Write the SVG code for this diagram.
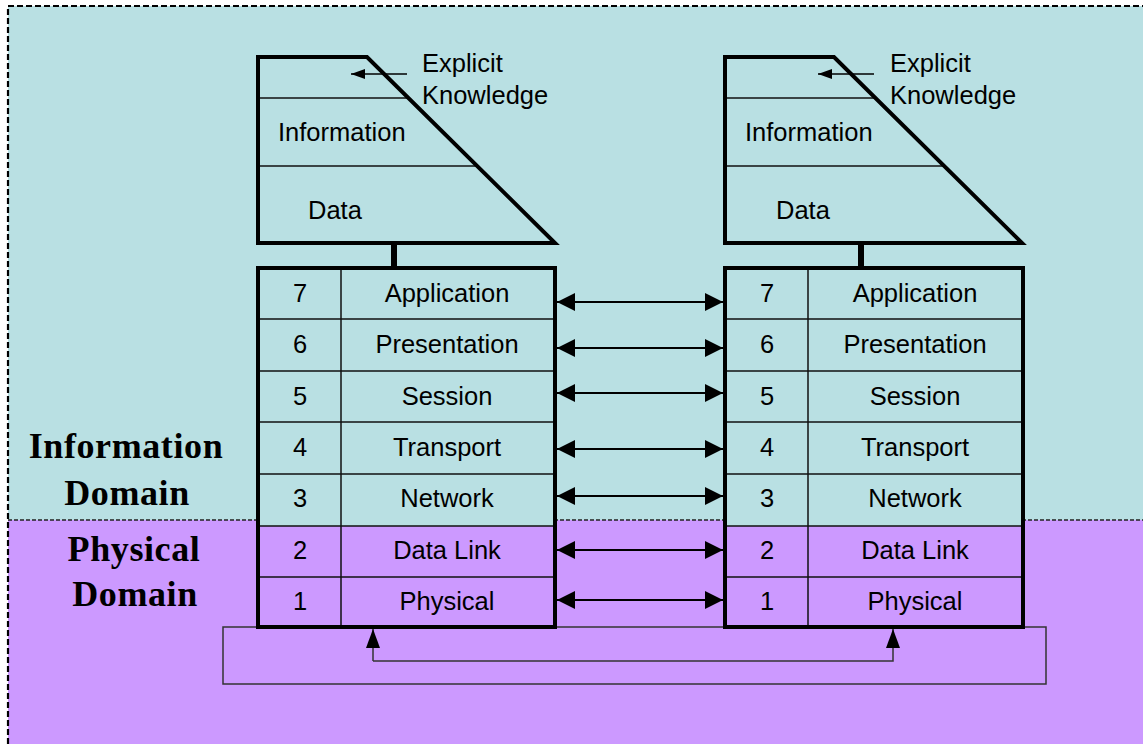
<svg xmlns="http://www.w3.org/2000/svg" width="1143" height="744" viewBox="0 0 1143 744">
<style>
.lbl{font-family:"Liberation Sans",Arial,sans-serif;font-size:25.5px;fill:#000;text-anchor:middle}
.ptxt{font-family:"Liberation Sans",Arial,sans-serif;font-size:25.5px;fill:#000}
.dom{font-family:"Liberation Serif","Times New Roman",serif;font-size:36px;font-weight:bold;fill:#000;text-anchor:middle;letter-spacing:0.6px}
.thick{fill:none;stroke:#000;stroke-width:4}
.thin{fill:none;stroke:#111;stroke-width:1.5}
.teal{fill:#B9E0E3}
.purple{fill:#CC99FF}
.conn{fill:none;stroke:#000;stroke-width:2}
</style>
<defs>
<marker id="ah" viewBox="0 0 18 18" refX="18" refY="9" markerWidth="18" markerHeight="18" markerUnits="userSpaceOnUse" orient="auto-start-reverse">
<path d="M0,0 L18,9 L0,18 Z" fill="#000"/>
</marker>
<marker id="ahs" viewBox="0 0 14 10" refX="14" refY="5" markerWidth="14" markerHeight="10" markerUnits="userSpaceOnUse" orient="auto">
<path d="M0,0 L14,5 L0,10 Z" fill="#000"/>
</marker>
<marker id="ahu" viewBox="0 0 19 14" refX="19" refY="7" markerWidth="19" markerHeight="14" markerUnits="userSpaceOnUse" orient="auto">
<path d="M0,0 L19,7 L0,14 Z" fill="#000"/>
</marker>
</defs>

<g id="background">
<rect x="0" y="0" width="1143" height="744" fill="#FFFFFF"/>
<rect x="8" y="6" width="1135" height="514" class="teal"/>
<rect x="8" y="520" width="1135" height="224" class="purple"/>
<path d="M8,744 L8,6 L1143,6" fill="none" stroke="#000" stroke-width="2.2" stroke-dasharray="6,3"/>
<line x1="8" y1="520" x2="1143" y2="520" stroke="#222" stroke-width="1.5" stroke-dasharray="4,2"/>
</g>

<g id="domain-labels">
<text class="dom" x="126" y="458">Information</text>
<text class="dom" x="127" y="505">Domain</text>
<text class="dom" x="134" y="561">Physical</text>
<text class="dom" x="135" y="606">Domain</text>
</g>

<g id="medium">
<rect x="223" y="627" width="823" height="57" fill="none" stroke="#333" stroke-width="1.5"/>
</g>

<g id="pyramid-left">
<path d="M258,57 L367,57 L555,243 L258,243 Z" class="teal"/>
<line x1="258" y1="98" x2="408" y2="98" class="thin"/>
<line x1="258" y1="166" x2="477" y2="166" class="thin"/>
<path d="M258,57 L367,57 L555,243 L258,243 Z" class="thick"/>
<text class="ptxt" x="278" y="141">Information</text>
<text class="ptxt" x="308" y="219">Data</text>
<text class="ptxt" x="422" y="72">Explicit</text>
<text class="ptxt" x="422" y="104">Knowledge</text>
<line x1="394" y1="243" x2="394" y2="268" stroke="#000" stroke-width="6"/>
</g>

<g id="pyramid-right">
<path d="M725,57 L834,57 L1022,243 L725,243 Z" class="teal"/>
<line x1="725" y1="98" x2="875" y2="98" class="thin"/>
<line x1="725" y1="166" x2="944" y2="166" class="thin"/>
<path d="M725,57 L834,57 L1022,243 L725,243 Z" class="thick"/>
<text class="ptxt" x="745" y="141">Information</text>
<text class="ptxt" x="776" y="219">Data</text>
<text class="ptxt" x="890" y="72">Explicit</text>
<text class="ptxt" x="890" y="104">Knowledge</text>
<line x1="861" y1="243" x2="861" y2="268" stroke="#000" stroke-width="6"/>
</g>

<g id="stack-left">
<rect x="258" y="268" width="297" height="258" class="teal"/>
<rect x="258" y="526" width="297" height="101" class="purple"/>
<g class="thin">
<line x1="258" y1="319" x2="555" y2="319"/>
<line x1="258" y1="371" x2="555" y2="371"/>
<line x1="258" y1="422" x2="555" y2="422"/>
<line x1="258" y1="474" x2="555" y2="474"/>
<line x1="258" y1="526" x2="555" y2="526"/>
<line x1="258" y1="577" x2="555" y2="577"/>
<line x1="341" y1="268" x2="341" y2="627"/>
</g>
<rect x="258" y="268" width="297" height="359" class="thick"/>
<text class="lbl" x="300" y="302">7</text><text class="lbl" x="447" y="302">Application</text>
<text class="lbl" x="300" y="353">6</text><text class="lbl" x="447" y="353">Presentation</text>
<text class="lbl" x="300" y="405">5</text><text class="lbl" x="447" y="405">Session</text>
<text class="lbl" x="300" y="456">4</text><text class="lbl" x="447" y="456">Transport</text>
<text class="lbl" x="300" y="507">3</text><text class="lbl" x="447" y="507">Network</text>
<text class="lbl" x="300" y="559">2</text><text class="lbl" x="447" y="559">Data Link</text>
<text class="lbl" x="300" y="610">1</text><text class="lbl" x="447" y="610">Physical</text>
</g>

<g id="stack-right">
<rect x="725" y="268" width="298" height="258" class="teal"/>
<rect x="725" y="526" width="298" height="101" class="purple"/>
<g class="thin">
<line x1="725" y1="319" x2="1023" y2="319"/>
<line x1="725" y1="371" x2="1023" y2="371"/>
<line x1="725" y1="422" x2="1023" y2="422"/>
<line x1="725" y1="474" x2="1023" y2="474"/>
<line x1="725" y1="526" x2="1023" y2="526"/>
<line x1="725" y1="577" x2="1023" y2="577"/>
<line x1="808" y1="268" x2="808" y2="627"/>
</g>
<rect x="725" y="268" width="298" height="359" class="thick"/>
<text class="lbl" x="767" y="302">7</text><text class="lbl" x="915" y="302">Application</text>
<text class="lbl" x="767" y="353">6</text><text class="lbl" x="915" y="353">Presentation</text>
<text class="lbl" x="767" y="405">5</text><text class="lbl" x="915" y="405">Session</text>
<text class="lbl" x="767" y="456">4</text><text class="lbl" x="915" y="456">Transport</text>
<text class="lbl" x="767" y="507">3</text><text class="lbl" x="915" y="507">Network</text>
<text class="lbl" x="767" y="559">2</text><text class="lbl" x="915" y="559">Data Link</text>
<text class="lbl" x="767" y="610">1</text><text class="lbl" x="915" y="610">Physical</text>
</g>

<g id="connectors">
<line x1="557" y1="302" x2="723" y2="302" class="conn" marker-start="url(#ah)" marker-end="url(#ah)"/>
<line x1="557" y1="348" x2="723" y2="348" class="conn" marker-start="url(#ah)" marker-end="url(#ah)"/>
<line x1="557" y1="393" x2="723" y2="393" class="conn" marker-start="url(#ah)" marker-end="url(#ah)"/>
<line x1="557" y1="449" x2="723" y2="449" class="conn" marker-start="url(#ah)" marker-end="url(#ah)"/>
<line x1="557" y1="496" x2="723" y2="496" class="conn" marker-start="url(#ah)" marker-end="url(#ah)"/>
<line x1="557" y1="550" x2="723" y2="550" class="conn" marker-start="url(#ah)" marker-end="url(#ah)"/>
<line x1="557" y1="600" x2="723" y2="600" class="conn" marker-start="url(#ah)" marker-end="url(#ah)"/>
<line x1="407" y1="74" x2="351" y2="74" stroke="#000" stroke-width="1.5" marker-end="url(#ahs)"/>
<line x1="874" y1="74" x2="818" y2="74" stroke="#000" stroke-width="1.5" marker-end="url(#ahs)"/>
<path d="M373,661 L373,629" fill="none" stroke="#333" stroke-width="1.5" marker-end="url(#ahu)"/>
<path d="M373,661 L893,661 L893,629" fill="none" stroke="#333" stroke-width="1.5" marker-end="url(#ahu)"/>
</g>
</svg>
